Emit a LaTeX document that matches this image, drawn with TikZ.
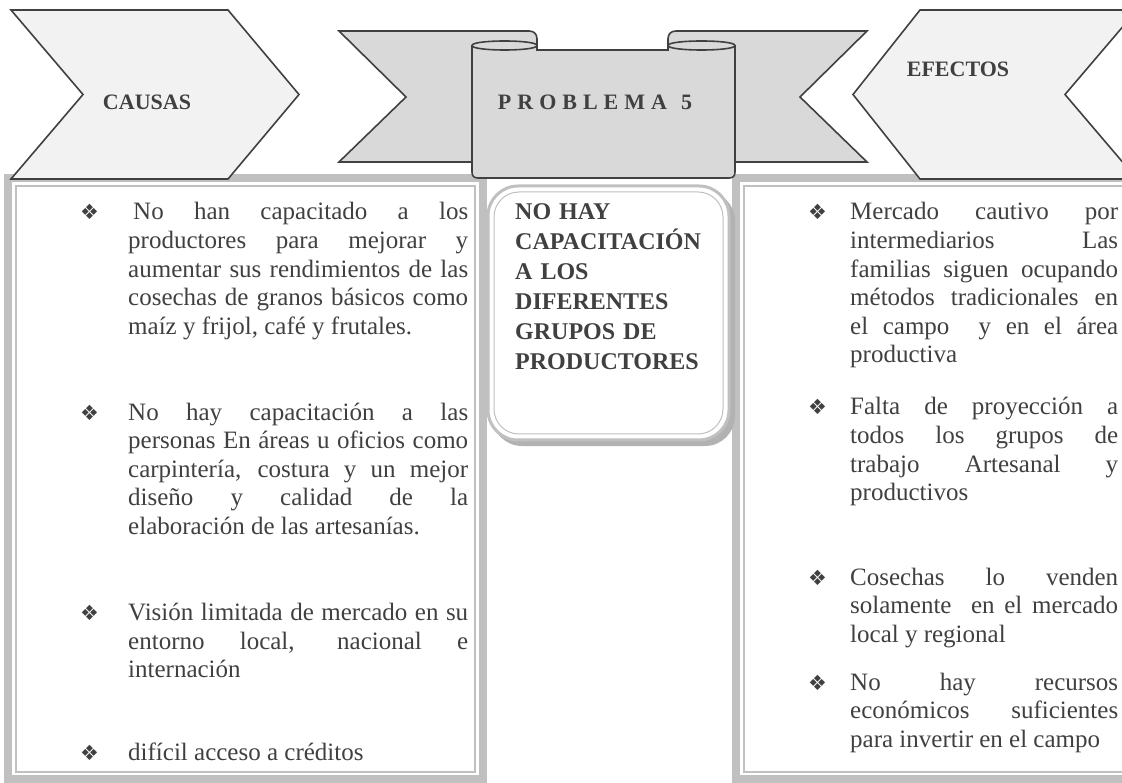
\documentclass[tikz,border=0pt]{standalone}
\usepackage{fontspec}
\setmainfont{Liberation Serif}
\newfontfamily\symfont{DejaVu Sans}
\usetikzlibrary{positioning}
\setlength{\parindent}{0pt}
\tolerance=10000
\hbadness=10000
\definecolor{inkgray}{RGB}{64,64,64}
\definecolor{chevfill}{RGB}{242,242,242}
\definecolor{ribfill}{RGB}{217,217,217}
\definecolor{bandgray}{RGB}{192,192,192}
\definecolor{shadegray}{RGB}{178,178,178}
\tikzset{
  shapeline/.style={draw=inkgray, line width=1.6pt, line join=miter},
  headtext/.style={inner sep=0pt, anchor=base, text=inkgray, font=\bfseries\fontsize{22}{26}\selectfont},
  bulmark/.style={inner sep=0pt, anchor=base west, text=inkgray, font=\symfont\fontsize{21}{22}\selectfont},
  lefttext/.style={inner sep=0pt, anchor=base west, text width=340pt, align=justify, text=inkgray, font=\fontsize{25}{28.6}\selectfont},
  righttext/.style={lefttext, text width=268pt},
  outerband/.style={draw=bandgray, line width=8pt},
  innerband/.style={draw=bandgray, line width=2pt},
}

\begin{document}
\begin{tikzpicture}[x=1pt, y=-1pt]
\useasboundingbox (0,0) rectangle (1122,783);
\clip (0,0) rectangle (1122,783);

% frames
\draw[outerband] (7.5,178) rectangle (483,779);
\draw[innerband] (16,186) rectangle (475,772);
\draw[outerband] (736,178) rectangle (1140,779);
\draw[innerband] (744,186) rectangle (1132,772);

% centre box
\fill[shadegray, rounded corners=30pt] (492,191) rectangle (735,446);
\draw[fill=white, draw=bandgray, line width=3pt, rounded corners=30pt] (488,186) rectangle (729,440);
\draw[bandgray, line width=1pt, rounded corners=25pt] (494,192) rectangle (723,434);

% chevrons
\draw[shapeline, fill=chevfill] (11,10) -- (228,10) -- (299,94.5) -- (228,179) -- (11,179) -- (83,94.5) -- cycle;
\draw[shapeline, fill=chevfill] (920,10) -- (1137,10) -- (1065,94.5) -- (1137,179) -- (920,179) -- (853,94.5) -- cycle;

% ribbon
\draw[shapeline, fill=ribfill] (339,31) -- (529,31) .. controls (534,31) and (537,34) .. (537,39)
  -- (537,162) -- (339,162) -- (406,97) -- cycle;
\draw[shapeline, fill=ribfill] (867,31) -- (676,31) .. controls (671,31) and (668,34) .. (668,39)
  -- (668,162) -- (867,162) -- (800,97) -- cycle;
\draw[shapeline, fill=ribfill] (472,45.5) -- (472,172) .. controls (472,176) and (474,178) .. (478,178)
  -- (729,178) .. controls (733,178) and (735,176) .. (735,172) -- (735,45.5)
  .. controls (735,39.5) and (668,39.5) .. (668,45.5) -- (668,50) -- (537,50) -- (537,45.5)
  .. controls (537,39.5) and (472,39.5) .. (472,45.5) -- cycle;
\draw[shapeline] (472,45.5) .. controls (472,51.5) and (537,51.5) .. (537,45.5);
\draw[shapeline] (668,45.5) .. controls (668,51.5) and (735,51.5) .. (735,45.5);

% headings
\node[headtext] (causas) at (147,110) {CAUSAS};
\node[headtext] (efectos) at (958,77) {EFECTOS};
\node[headtext] (problema) at (595,110)
  {P\kern6pt R\kern6pt O\kern6pt B\kern6pt L\kern6pt E\kern6pt M\kern6pt A\kern14pt 5};
\node[inner sep=0pt, anchor=base west, text width=210pt, align=left, text=inkgray,
  font=\bfseries\fontsize{24}{30}\selectfont] (core) at (515,220)
  {NO HAY\\CAPACITACIÓN\\A LOS\\DIFERENTES\\GRUPOS DE\\PRODUCTORES};

% causes
\node[bulmark] (lb1) at (80,220) {❖};
\node[lefttext] (lt1) at (128,220) {\hspace{5pt}No han capacitado a los\linebreak productores para mejorar y\linebreak aumentar sus rendimientos de las\linebreak cosechas de granos básicos como\linebreak maíz y frijol, café y frutales.};
\node[bulmark] (lb2) at (80,420.2) {❖};
\node[lefttext] (lt2) at (128,420.2) {No hay capacitación a las\linebreak personas En áreas u oficios como\linebreak carpintería, costura y un mejor\linebreak diseño y calidad de la\linebreak elaboración de las artesanías.};
\node[bulmark] (lb3) at (80,620.4) {❖};
\node[lefttext] (lt3) at (128,620.4) {Visión limitada de mercado en su\linebreak entorno local, nacional e\linebreak internación};
\node[bulmark] (lb4) at (80,760) {❖};
\node[lefttext] (lt4) at (128,760) {difícil acceso a créditos};

% effects
\node[bulmark] (rb1) at (808,220) {❖};
\node[righttext] (rt1) at (850,220) {Mercado cautivo por\linebreak intermediarios Las\linebreak familias siguen ocupando\linebreak métodos tradicionales en\linebreak el campo\ \ y en el área\linebreak productiva};
\node[bulmark] (rb2) at (808,415) {❖};
\node[righttext] (rt2) at (850,415) {Falta de proyección a\linebreak todos los grupos de\linebreak trabajo Artesanal y\linebreak productivos};
\node[bulmark] (rb3) at (808,585) {❖};
\node[righttext] (rt3) at (850,585) {Cosechas lo venden\linebreak solamente\ \ en el mercado\linebreak local y regional};
\node[bulmark] (rb4) at (808,690) {❖};
\node[righttext] (rt4) at (850,690) {No hay recursos\linebreak económicos suficientes\linebreak para invertir en el campo};
\end{tikzpicture}
\end{document}
